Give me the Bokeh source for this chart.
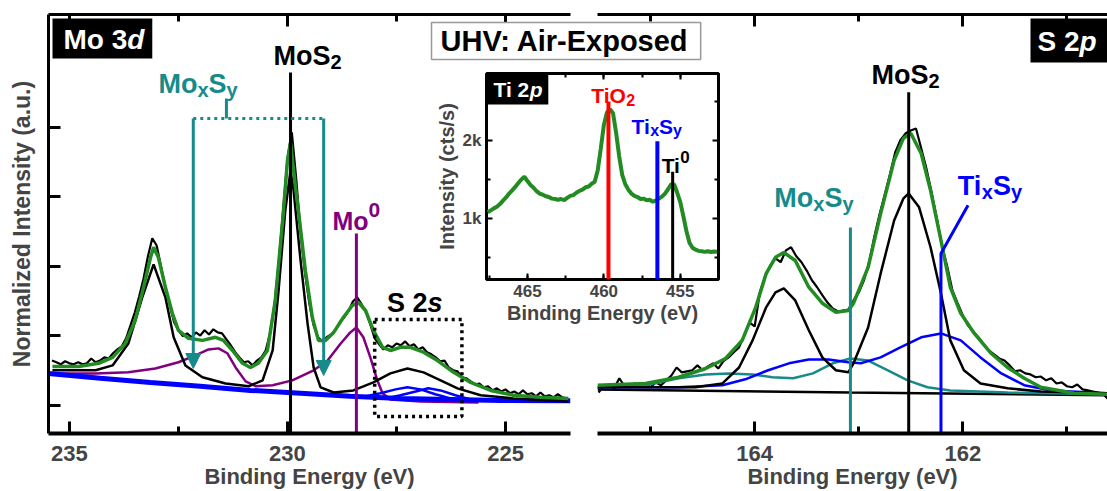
from bokeh.plotting import figure
from bokeh.models import (Range1d, LinearAxis, SingleIntervalTicker, FixedTicker,
                          CustomJSTickFormatter, Label, Arrow, NormalHead, BoxAnnotation, GridBox)
from bokeh.embed import file_html
from bokeh.resources import INLINE

FONT = "Liberation Sans"
GREEN = "#228B22"
PURPLE = "#800080"
TEAL = "#178A8A"
BLUE = "#0000FF"
RED = "#FF0000"

# ---------------- Mo 3d / S 2s region (normalized intensity) ----------------
mo3d_energy = [235.4, 235.3, 235.2, 235.1, 235.0, 234.9, 234.8, 234.7, 234.6, 234.5,
               234.4, 234.3, 234.2, 234.1, 234.0, 233.9, 233.8, 233.7, 233.6, 233.5,
               233.4, 233.3, 233.2, 233.1, 233.0, 232.9, 232.8, 232.7, 232.6, 232.5,
               232.4, 232.3, 232.2, 232.1, 232.0, 231.9, 231.8, 231.7, 231.6, 231.5,
               231.4, 231.3, 231.2, 231.1, 231.0, 230.9, 230.8, 230.7, 230.6, 230.5,
               230.4, 230.3, 230.2, 230.1, 230.0, 229.9, 229.8, 229.7, 229.6, 229.5,
               229.4, 229.3, 229.2, 229.1, 229.0, 228.9, 228.8, 228.7, 228.6, 228.5,
               228.4, 228.3, 228.2, 228.1, 228.0, 227.9, 227.8, 227.7, 227.6, 227.5,
               227.4, 227.3, 227.2, 227.1, 227.0, 226.9, 226.8, 226.7, 226.6, 226.5,
               226.4, 226.3, 226.2, 226.1, 226.0, 225.9, 225.8, 225.7, 225.6, 225.5,
               225.4, 225.3, 225.2, 225.1, 225.0, 224.9, 224.8, 224.7, 224.6, 224.5,
               224.4, 224.3, 224.2, 224.1, 224.0, 223.9, 223.8, 223.7, 223.6]
mo3d_raw = [0.329, 0.324, 0.318, 0.327, 0.321, 0.318, 0.324, 0.318, 0.321, 0.335,
            0.324, 0.329, 0.338, 0.335, 0.350, 0.361, 0.370, 0.393, 0.430, 0.468,
            0.514, 0.565, 0.629, 0.681, 0.660, 0.600, 0.540, 0.488, 0.439, 0.416,
            0.399, 0.407, 0.396, 0.410, 0.401, 0.416, 0.404, 0.419, 0.410, 0.407,
            0.390, 0.373, 0.353, 0.338, 0.324, 0.327, 0.315, 0.329, 0.338, 0.358,
            0.407, 0.488, 0.612, 0.761, 0.911, 0.986, 0.853, 0.698, 0.583, 0.494,
            0.430, 0.396, 0.384, 0.396, 0.404, 0.416, 0.439, 0.453, 0.471, 0.499,
            0.511, 0.491, 0.468, 0.433, 0.393, 0.376, 0.361, 0.373, 0.367, 0.378,
            0.373, 0.384, 0.370, 0.376, 0.361, 0.367, 0.353, 0.347, 0.338, 0.327,
            0.329, 0.309, 0.301, 0.298, 0.281, 0.278, 0.269, 0.260, 0.263, 0.252,
            0.255, 0.243, 0.249, 0.240, 0.246, 0.235, 0.240, 0.232, 0.243, 0.232,
            0.235, 0.226, 0.237, 0.226, 0.229, 0.223, 0.232, 0.223, 0.220]

mo3d_env_E = [235.39, 234.79, 234.33, 234.01, 233.72, 233.49, 233.30, 233.14, 233.07, 232.96,
              232.80, 232.64, 232.50, 232.27, 231.95, 231.65, 231.47, 231.26, 231.03, 230.85,
              230.67, 230.46, 230.28, 230.11, 230.00, 229.93, 229.82, 229.75, 229.59, 229.43,
              229.29, 229.13, 228.94, 228.72, 228.51, 228.37, 228.21, 228.03, 227.82, 227.64,
              227.41, 227.18, 226.88, 226.56, 226.19, 225.80, 225.34, 224.82, 224.20, 223.56]
mo3d_env = [0.312, 0.312, 0.321, 0.338, 0.378, 0.445, 0.540, 0.626, 0.655, 0.626,
            0.540, 0.465, 0.416, 0.393, 0.387, 0.396, 0.387, 0.358, 0.321, 0.309,
            0.321, 0.358, 0.502, 0.732, 0.905, 0.957, 0.833, 0.761, 0.588, 0.453,
            0.387, 0.387, 0.410, 0.453, 0.488, 0.496, 0.473, 0.416, 0.367, 0.358,
            0.367, 0.367, 0.353, 0.329, 0.295, 0.266, 0.243, 0.229, 0.223, 0.220]

# MoS2 doublet followed by the S 2s component
mo3d_mos2_E = [235.39, 234.40, 234.01, 233.65, 233.33, 233.07, 232.80, 232.61, 232.34, 231.95,
               231.42, 230.89, 230.57, 230.34, 230.21, 230.05, 229.93, 229.86, 229.70, 229.54,
               229.40, 229.24, 228.94, 228.49, 228.03, 227.64, 227.25, 226.88, 226.49, 226.10,
               225.57, 224.82, 223.56]
mo3d_mos2 = [0.301, 0.301, 0.315, 0.378, 0.511, 0.606, 0.511, 0.396, 0.315, 0.281,
             0.263, 0.255, 0.272, 0.358, 0.522, 0.761, 0.876, 0.819, 0.617, 0.436,
             0.309, 0.252, 0.237, 0.243, 0.266, 0.292, 0.306, 0.295, 0.272, 0.249,
             0.229, 0.220, 0.211]

mo3d_mo0_E = [235.39, 234.40, 233.65, 233.03, 232.50, 232.11, 231.81, 231.58, 231.38, 231.19,
              230.96, 230.73, 230.34, 229.89, 229.40, 229.08, 228.78, 228.56, 228.42, 228.26,
              228.10, 227.94, 227.82, 227.64, 226.95, 225.62]
mo3d_mo0 = [0.292, 0.292, 0.295, 0.306, 0.324, 0.344, 0.361, 0.364, 0.350, 0.309,
            0.269, 0.255, 0.258, 0.272, 0.301, 0.329, 0.378, 0.410, 0.424, 0.396,
            0.338, 0.272, 0.235, 0.217, 0.211, 0.208]

mo3d_bg_E = [235.48, 234.29, 233.14, 232.00, 230.85, 229.70, 228.56, 227.41, 226.26, 225.11, 223.51]
mo3d_bg = [0.292, 0.278, 0.266, 0.255, 0.243, 0.235, 0.226, 0.220, 0.217, 0.214, 0.213]

s2s_ti_a_E = [228.33, 227.87, 227.52, 227.25, 226.95, 226.61, 226.26, 225.92]
s2s_ti_a = [0.223, 0.235, 0.246, 0.252, 0.246, 0.232, 0.220, 0.216]
s2s_ti_b_E = [227.75, 227.41, 227.06, 226.77, 226.49, 226.15, 225.80, 225.46]
s2s_ti_b = [0.220, 0.229, 0.240, 0.249, 0.243, 0.229, 0.217, 0.214]

mo3d_mos2_line = (229.93, 1.158)
mo3d_mo0_line = (228.42, 0.695)
moxsy_arrow_E = [232.16, 229.17]
moxsy_arrow_tip = [0.306, 0.286]
moxsy_bracket_I = 1.026
moxsy_stem = (231.40, 1.083)
s2s_window = (226.0, 228.0, 0.168, 0.447)   # left, right, bottom, top

# ---------------- S 2p region ----------------
s2p_energy = [165.50, 165.45, 165.40, 165.35, 165.30, 165.25, 165.20, 165.15, 165.10, 165.05,
              165.00, 164.95, 164.90, 164.85, 164.80, 164.75, 164.70, 164.65, 164.60, 164.55,
              164.50, 164.45, 164.40, 164.35, 164.30, 164.25, 164.20, 164.15, 164.10, 164.05,
              164.00, 163.95, 163.90, 163.85, 163.80, 163.75, 163.70, 163.65, 163.60, 163.55,
              163.50, 163.45, 163.40, 163.35, 163.30, 163.25, 163.20, 163.15, 163.10, 163.05,
              163.00, 162.95, 162.90, 162.85, 162.80, 162.75, 162.70, 162.65, 162.60, 162.55,
              162.50, 162.45, 162.40, 162.35, 162.30, 162.25, 162.20, 162.15, 162.10, 162.05,
              162.00, 161.95, 161.90, 161.85, 161.80, 161.75, 161.70, 161.65, 161.60, 161.55,
              161.50, 161.45, 161.40, 161.35, 161.30, 161.25, 161.20, 161.15, 161.10, 161.05,
              161.00, 160.95, 160.90, 160.85, 160.80, 160.75, 160.70, 160.65, 160.60]
s2p_raw = [0.237, 0.255, 0.260, 0.249, 0.278, 0.255, 0.260, 0.263, 0.255, 0.263,
           0.252, 0.266, 0.258, 0.272, 0.286, 0.309, 0.295, 0.298, 0.301, 0.315,
           0.301, 0.312, 0.321, 0.306, 0.327, 0.338, 0.353, 0.367, 0.401, 0.439,
           0.427, 0.525, 0.571, 0.603, 0.623, 0.612, 0.646, 0.655, 0.629, 0.612,
           0.588, 0.560, 0.540, 0.517, 0.496, 0.479, 0.470, 0.473, 0.476, 0.502,
           0.525, 0.560, 0.612, 0.686, 0.750, 0.807, 0.865, 0.928, 0.963, 0.983,
           0.991, 0.997, 0.940, 0.882, 0.813, 0.738, 0.658, 0.600, 0.531, 0.494,
           0.459, 0.430, 0.413, 0.396, 0.376, 0.358, 0.347, 0.335, 0.329, 0.315,
           0.298, 0.301, 0.292, 0.289, 0.281, 0.283, 0.272, 0.278, 0.263, 0.266,
           0.255, 0.252, 0.260, 0.246, 0.243, 0.240, 0.237, 0.232, 0.217]

s2p_env_E = [165.51, 165.05, 164.73, 164.47, 164.28, 164.12, 163.99, 163.89, 163.80, 163.72,
             163.61, 163.48, 163.35, 163.22, 163.10, 163.05, 162.91, 162.79, 162.66, 162.57,
             162.50, 162.40, 162.31, 162.21, 162.12, 162.02, 161.89, 161.73, 161.57, 161.41,
             161.25, 160.93, 160.61]
s2p_env = [0.258, 0.263, 0.281, 0.306, 0.335, 0.387, 0.482, 0.579, 0.626, 0.640,
           0.617, 0.540, 0.494, 0.468, 0.473, 0.494, 0.597, 0.752, 0.905, 0.969,
           0.983, 0.925, 0.819, 0.675, 0.540, 0.465, 0.407, 0.350, 0.309, 0.278,
           0.252, 0.235, 0.232]

s2p_mos2_E = [165.51, 164.57, 164.31, 164.15, 164.02, 163.89, 163.80, 163.72, 163.61, 163.48,
              163.35, 163.22, 163.10, 163.05, 162.91, 162.79, 162.66, 162.57, 162.52, 162.42,
              162.31, 162.21, 162.12, 161.99, 161.83, 161.57, 161.25, 160.61]
s2p_mos2 = [0.252, 0.252, 0.263, 0.309, 0.387, 0.482, 0.525, 0.537, 0.502, 0.416,
            0.338, 0.301, 0.295, 0.321, 0.424, 0.579, 0.732, 0.796, 0.810, 0.770,
            0.655, 0.522, 0.387, 0.301, 0.263, 0.249, 0.240, 0.235]

s2p_tixsy_E = [165.51, 164.73, 164.31, 164.09, 163.87, 163.67, 163.48, 163.29, 163.10, 162.98,
               162.79, 162.60, 162.40, 162.21, 162.02, 161.83, 161.63, 161.41, 161.15, 160.61]
s2p_tixsy = [0.252, 0.252, 0.258, 0.275, 0.301, 0.321, 0.332, 0.332, 0.324, 0.321,
             0.338, 0.367, 0.396, 0.407, 0.387, 0.338, 0.292, 0.258, 0.243, 0.235]

s2p_moxsy_E = [165.51, 165.05, 164.73, 164.47, 164.25, 164.02, 163.83, 163.63, 163.44, 163.25,
               163.08, 162.91, 162.72, 162.53, 162.34, 162.12, 161.57, 160.61]
s2p_moxsy = [0.252, 0.258, 0.278, 0.289, 0.292, 0.289, 0.281, 0.278, 0.292, 0.321,
             0.335, 0.329, 0.301, 0.272, 0.252, 0.243, 0.237, 0.232]

s2p_bg_E = [165.51, 163.08, 160.61]
s2p_bg = [0.246, 0.237, 0.229]

s2p_mos2_line = (162.52, 1.101)
s2p_moxsy_line = (163.08, 0.712)
s2p_tixsy_line = ([162.21, 162.21, 161.95], [0.637, 0.776])

# ---------------- Ti 2p inset (cts/s) ----------------
ti2p_energy = [467.6, 467.4, 467.2, 467.0, 466.8, 466.6, 466.4, 466.2, 466.0, 465.8,
               465.6, 465.4, 465.2, 465.0, 464.8, 464.6, 464.4, 464.2, 464.0, 463.8,
               463.6, 463.4, 463.2, 463.0, 462.8, 462.6, 462.4, 462.2, 462.0, 461.8,
               461.6, 461.4, 461.2, 461.0, 460.8, 460.6, 460.4, 460.2, 460.0, 459.8,
               459.6, 459.4, 459.2, 459.0, 458.8, 458.6, 458.4, 458.2, 458.0, 457.8,
               457.6, 457.4, 457.2, 457.0, 456.8, 456.6, 456.4, 456.2, 456.0, 455.8,
               455.6, 455.4, 455.2, 455.0, 454.8, 454.6, 454.4, 454.2, 454.0, 453.8,
               453.6, 453.4, 453.2, 453.0, 452.8, 452.6]
ti2p_counts = [1080, 1105, 1130, 1150, 1185, 1230, 1270, 1320, 1360, 1405,
               1455, 1500, 1535, 1480, 1430, 1395, 1350, 1320, 1305, 1285,
               1275, 1255, 1250, 1240, 1250, 1235, 1265, 1290, 1300, 1330,
               1355, 1370, 1400, 1410, 1445, 1470, 1620, 1900, 2200, 2360,
               2400, 2350, 2100, 1800, 1560, 1440, 1370, 1320, 1290, 1275,
               1250, 1255, 1235, 1240, 1215, 1230, 1255, 1280, 1320, 1375,
               1440, 1435, 1330, 1210, 1030, 840, 690, 625, 600, 585,
               580, 572, 580, 570, 577, 575]
ti_markers = [("TiO2", 459.7, 2500, RED), ("TixSy", 456.5, 1990, BLUE), ("Ti0", 455.5, 1600, "black")]

# Arial/Liberation Sans Bold advance widths (per 1000 em) for label layout
ADV = {"M": 833, "o": 611, "S": 667, "x": 556, "y": 556, "T": 611, "i": 278, "O": 778,
       "2": 556, "0": 556, " ": 278, "d": 611, "p": 611, "s": 556, "3": 556}


def text_width(s, size):
    return sum(ADV.get(c, 556) for c in s) * size / 1000.0


def rich_label(fig, x, y, parts, size, color, small_ratio=0.75):
    """Centered label made of normal / sub / sup / italic runs; (x, y) is the baseline."""
    sizes = [round(size * small_ratio) if k in ("sub", "sup") else size for _, k in parts]
    widths = [text_width(t, s) for (t, _), s in zip(parts, sizes)]
    cursor = -sum(widths) / 2.0
    lift = 0.26 * size
    for (t, k), s, w in zip(parts, sizes, widths):
        dy = {"sub": -0.22 * size, "sup": 0.42 * size}.get(k, 0.0)
        fig.add_layout(Label(x=x, y=y, x_offset=cursor, y_offset=lift + dy, text=t,
                             text_font=FONT, text_font_size=f"{s}px",
                             text_font_style="bold italic" if k == "i" else "bold",
                             text_color=color, text_align="left", text_baseline="alphabetic"))
        cursor += w


def tag(fig, x, y, head, tail, size, dx, dy, pad):
    """White-on-black panel tag anchored at its top-left corner; the last run is italic."""
    top, right, bottom, left_pad = pad
    wh = text_width(head, size)
    wt = text_width(tail, size)
    fig.add_layout(Label(x=x, y=y, x_offset=dx, y_offset=dy, text=head, text_font=FONT,
                         text_font_size=f"{size}px", text_font_style="bold", text_color="white",
                         text_align="left", text_baseline="top", background_fill_color="black",
                         padding=dict(top=top, right=int(round(right + wt)), bottom=bottom,
                                      left=left_pad)))
    fig.add_layout(Label(x=x, y=y, x_offset=dx + left_pad + wh, y_offset=dy - top, text=tail,
                         text_font=FONT, text_font_size=f"{size}px",
                         text_font_style="bold italic", text_color="white",
                         text_align="left", text_baseline="top"))


def add_axis(fig, side, ticker, line_width=3, line_color="black", tick_in=12, minor_in=7,
             tick_width=3, labels=False, label_size="22px", label_standoff=6,
             title=None, title_size="22px", title_standoff=4, overrides=None):
    ax = LinearAxis(ticker=ticker)
    ax.axis_line_width = line_width
    ax.axis_line_color = line_color
    ax.major_tick_in = tick_in
    ax.major_tick_out = 0
    ax.minor_tick_in = minor_in
    ax.minor_tick_out = 0
    ax.major_tick_line_width = tick_width
    ax.minor_tick_line_width = tick_width
    ax.major_label_text_font = FONT
    ax.major_label_text_font_style = "bold"
    if labels:
        ax.major_label_text_font_size = label_size
        ax.major_label_standoff = label_standoff
        if overrides:
            ax.major_label_overrides = overrides
    else:
        ax.formatter = CustomJSTickFormatter(code="return ''")
        ax.major_label_text_font_size = "0px"
        ax.major_label_standoff = 0
    if title:
        ax.axis_label = title
        ax.axis_label_text_font = FONT
        ax.axis_label_text_font_style = "bold"
        ax.axis_label_text_font_size = title_size
        ax.axis_label_standoff = title_standoff
    fig.add_layout(ax, side)
    return ax


def base_figure(width, height, xr, yr, borders):
    l, r, t, b = borders
    fig = figure(width=width, height=height, x_range=Range1d(*xr), y_range=Range1d(*yr),
                 x_axis_location=None, y_axis_location=None, output_backend="svg",
                 toolbar_location=None, min_border_left=l, min_border_right=r,
                 min_border_top=t, min_border_bottom=b)
    fig.grid.visible = False
    fig.outline_line_color = None
    return fig


Y_RANGE = (0.119, 1.325)
norm_ticks = [0.2, 0.4, 0.6, 0.8, 1.0]

# ======================= Mo 3d panel =======================
left = base_figure(575, 491, (235.48, 223.51), Y_RANGE, (48, 5, 14, 58))
add_axis(left, "below", SingleIntervalTicker(interval=5, num_minor_ticks=2), line_width=4,
         labels=True, label_standoff=12, title="Binding Energy (eV)", title_standoff=0)
add_axis(left, "above", SingleIntervalTicker(interval=5, num_minor_ticks=2))
add_axis(left, "left", FixedTicker(ticks=norm_ticks), title="Normalized Intensity (a.u.)",
         title_size="23px", title_standoff=14)

left.line(mo3d_energy, mo3d_raw, line_color="black", line_width=2.2)
left.line(mo3d_mo0_E, mo3d_mo0, line_color=PURPLE, line_width=2.5)
left.line(mo3d_bg_E, mo3d_bg, line_color=BLUE, line_width=5)
left.line(s2s_ti_a_E, s2s_ti_a, line_color=BLUE, line_width=2.5)
left.line(s2s_ti_b_E, s2s_ti_b, line_color=BLUE, line_width=2.5)
left.line(mo3d_mos2_E, mo3d_mos2, line_color="black", line_width=2.5)
left.line(mo3d_env_E, mo3d_env, line_color=GREEN, line_width=3.5)

y0 = Y_RANGE[0]
left.segment(x0=[mo3d_mos2_line[0]], y0=[y0], x1=[mo3d_mos2_line[0]], y1=[mo3d_mos2_line[1]],
             line_color="black", line_width=3)
left.segment(x0=[mo3d_mo0_line[0]], y0=[y0], x1=[mo3d_mo0_line[0]], y1=[mo3d_mo0_line[1]],
             line_color=PURPLE, line_width=3)

# Mo_xS_y bracket with arrows
left.line(moxsy_arrow_E, [moxsy_bracket_I] * 2, line_color=TEAL, line_width=3, line_dash="3 4")
left.segment(x0=[moxsy_stem[0]], y0=[moxsy_bracket_I], x1=[moxsy_stem[0]], y1=[moxsy_stem[1]],
             line_color=TEAL, line_width=3)
for e, tip in zip(moxsy_arrow_E, moxsy_arrow_tip):
    left.add_layout(Arrow(end=NormalHead(size=15, fill_color=TEAL, line_color=TEAL),
                          x_start=e, y_start=moxsy_bracket_I, x_end=e, y_end=tip,
                          line_color=TEAL, line_width=3))

l_, r_, b_, t_ = s2s_window
left.add_layout(BoxAnnotation(left=l_, right=r_, bottom=b_, top=t_, fill_color=None,
                              line_color="black", line_alpha=1.0, line_width=3.5,
                              line_dash="3 4"))

rich_label(left, 229.54, 1.184, [("MoS", "n"), ("2", "sub")], 27, "black")
rich_label(left, 232.05, 1.106, [("Mo", "n"), ("x", "sub"), ("S", "n"), ("y", "sub")], 27, TEAL)
rich_label(left, 228.42, 0.712, [("Mo", "n"), ("0", "sup")], 25, PURPLE, small_ratio=0.85)
rich_label(left, 227.08, 0.473, [("S 2", "n"), ("s", "i")], 27, "black")
tag(left, 235.48, Y_RANGE[1], "Mo 3", "d", 28, 4, -4, (5, 8, 4, 11))

# ======================= S 2p panel =======================
right = base_figure(532, 491, (165.51, 160.61), Y_RANGE, (22, 0, 14, 58))
add_axis(right, "below", SingleIntervalTicker(interval=2, num_minor_ticks=2), line_width=4,
         labels=True, label_standoff=12, title="Binding Energy (eV)", title_standoff=0)
add_axis(right, "above", SingleIntervalTicker(interval=2, num_minor_ticks=2))

right.line(s2p_energy, s2p_raw, line_color="black", line_width=2.2)
right.line(s2p_bg_E, s2p_bg, line_color="black", line_width=2.5)
right.line(s2p_moxsy_E, s2p_moxsy, line_color=TEAL, line_width=2.5)
right.line(s2p_tixsy_E, s2p_tixsy, line_color=BLUE, line_width=2.5)
right.line(s2p_mos2_E, s2p_mos2, line_color="black", line_width=2.5)
right.line(s2p_env_E, s2p_env, line_color=GREEN, line_width=3.5)

right.segment(x0=[s2p_mos2_line[0]], y0=[y0], x1=[s2p_mos2_line[0]], y1=[s2p_mos2_line[1]],
              line_color="black", line_width=3)
right.segment(x0=[s2p_moxsy_line[0]], y0=[y0], x1=[s2p_moxsy_line[0]], y1=[s2p_moxsy_line[1]],
              line_color=TEAL, line_width=3)
right.line(s2p_tixsy_line[0], [y0] + s2p_tixsy_line[1], line_color=BLUE, line_width=3)

rich_label(right, 162.55, 1.130, [("MoS", "n"), ("2", "sub")], 27, "black")
rich_label(right, 163.43, 0.776, [("Mo", "n"), ("x", "sub"), ("S", "n"), ("y", "sub")], 27, TEAL)
rich_label(right, 161.74, 0.810, [("Ti", "n"), ("x", "sub"), ("S", "n"), ("y", "sub")], 27, BLUE)
tag(right, 160.61, Y_RANGE[1], "S 2", "p", 28, -77, -4, (7, 30, 6, 7))

# ======================= Ti 2p inset =======================
TI_X = (467.68, 452.5)
TI_Y = (218, 2859)
inset = figure(width=295, height=329, x_range=Range1d(*TI_X), y_range=Range1d(*TI_Y),
               x_axis_location=None, y_axis_location=None, output_backend="svg",
               toolbar_location=None, min_border_left=61, min_border_right=2,
               min_border_top=72, min_border_bottom=51)
inset.grid.visible = False
inset.outline_line_color = "black"
inset.outline_line_width = 3
inset.border_fill_alpha = 0
inset.background_fill_color = "white"

# sample-condition banner above the inset
inset.title.text = "UHV: Air-Exposed"
inset.title.text_font = FONT
inset.title.text_font_size = "29px"
inset.title.text_font_style = "bold"
inset.title.text_color = "black"
inset.title.align = "left"
inset.title.offset = -55
inset.title.standoff = 28
inset.title.background_fill_color = "white"
inset.title.border_line_color = "#999999"
inset.title.border_line_width = 1.5
inset.title.padding = dict(top=2, bottom=3, left=9, right=12)

x_tk = SingleIntervalTicker(interval=5, num_minor_ticks=2)
y_tk = FixedTicker(ticks=[1000, 2000], minor_ticks=[500, 1500, 2500])
add_axis(inset, "below", x_tk, line_color=None, tick_in=6, minor_in=4, tick_width=2,
         labels=True, label_size="17px", label_standoff=5,
         title="Binding Energy (eV)", title_size="20px", title_standoff=2)
add_axis(inset, "left", y_tk, line_color=None, tick_in=6, minor_in=4, tick_width=2,
         labels=True, label_size="17px", label_standoff=5,
         overrides={1000: "1k", 2000: "2k"},
         title="Intensity (cts/s)", title_size="20px", title_standoff=2)
add_axis(inset, "above", SingleIntervalTicker(interval=5, num_minor_ticks=2), line_color=None,
         tick_in=6, minor_in=4, tick_width=2)
add_axis(inset, "right", FixedTicker(ticks=[1000, 2000], minor_ticks=[500, 1500, 2500]),
         line_color=None, tick_in=6, minor_in=4, tick_width=2)

inset.line(ti2p_energy, ti2p_counts, line_color=GREEN, line_width=4)
for name, e, top, col in ti_markers:
    inset.segment(x0=[e], y0=[TI_Y[0]], x1=[e], y1=[top], line_color=col,
                  line_width=4 if col != "black" else 3)

rich_label(inset, 459.39, 2510, [("TiO", "n"), ("2", "sub")], 21, RED)
rich_label(inset, 456.54, 2115, [("Ti", "n"), ("x", "sub"), ("S", "n"), ("y", "sub")], 21, BLUE)
rich_label(inset, 455.30, 1610, [("Ti", "n"), ("0", "sup")], 21, "black", small_ratio=0.8)
tag(inset, TI_X[0], TI_Y[1], "Ti 2", "p", 21, 1, 0, (4, 6, 4, 6))

# the inset starts one pixel below the panels so its frame is not aligned with theirs
layout = GridBox(children=[(left, 0, 0, 3, 2), (right, 0, 2, 3, 2), (inset, 1, 1, 1, 2)],
                 rows=["1px", "329px", "161px"], cols=["425px", "150px", "145px", "387px"])

open("out.html", "w").write(file_html(layout, INLINE))
